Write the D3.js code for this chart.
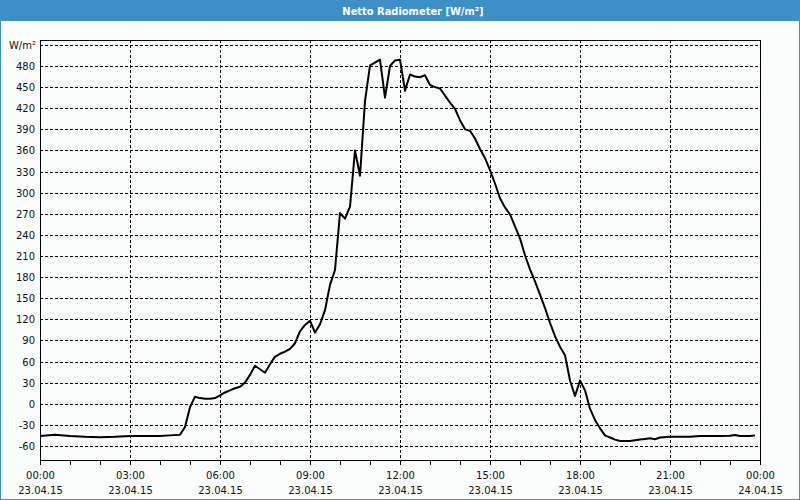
<!DOCTYPE html>
<html><head><meta charset="utf-8">
<script src="https://cdn.jsdelivr.net/npm/d3@7/dist/d3.min.js"></script>
<style>
html,body{margin:0;padding:0;background:#fafdfc;}
svg{display:block;}
</style></head>
<body>
<script>
// ---- data ----
const title = "Netto Radiometer [W/m²]";
const unitLabel = "W/m²";
// minutes after 23.04.15 00:00
const minutes = [0,30,60,90,120,150,180,210,240,260,280,290,300,310,320,330,340,350,360,370,380,390,400,410,420,430,440,450,460,470,480,490,500,510,520,530,540,550,560,570,580,590,600,610,620,630,640,650,660,670,680,690,700,710,720,730,740,750,760,770,780,790,800,810,820,830,840,850,860,870,880,890,900,910,920,930,940,950,960,970,980,990,1000,1010,1020,1030,1040,1050,1060,1070,1080,1090,1100,1110,1120,1130,1140,1150,1160,1180,1200,1210,1220,1230,1240,1260,1280,1300,1320,1340,1360,1380,1390,1400,1420,1430];
const values = [-46,-44,-46,-47,-47.5,-47,-46,-46,-46,-45,-44,-33,-5,10,8,7,7,8,12,16,19,22,24,30,41,54,49,44,56,67,71,74,78,86,103,112,118,101,113,133,169,190,271,263,280,360,324,430,481,485,489,435,480,488,489,445,468,465,464,467,453,450,448,438,428,419,403,390,388,377,362,349,332,313,292,279,269,252,235,211,191,174,155,136,115,96,81,69,33,11,33,19,-7,-23,-35,-45,-48,-51,-53,-53,-51,-50,-49,-50.5,-48,-47,-47,-47,-46,-46,-46,-45.5,-44.5,-46,-46,-45];
const yTicks = [-60,-30,0,30,60,90,120,150,180,210,240,270,300,330,360,390,420,450,480];
const yUnitTick = 510;
const xMajorTicks = [0,180,360,540,720,900,1080,1260,1440];
const xTimeLabels = ["00:00","03:00","06:00","09:00","12:00","15:00","18:00","21:00","00:00"];
const xDateLabels = ["23.04.15","23.04.15","23.04.15","23.04.15","23.04.15","23.04.15","23.04.15","23.04.15","24.04.15"];
const xMinorTicks = d3.range(0, 1441, 60);

// ---- layout ----
const W = 800, H = 500;
const L = 40, R = 760, T = 40, B = 460;
const blue = "#3d8fc7";
const font = "'DejaVu Sans', Verdana, sans-serif";

const svg = d3.select("body").append("svg").attr("width", W).attr("height", H);
svg.append("rect").attr("x",0).attr("y",0).attr("width",W).attr("height",H).attr("fill","#fafdfc");
// title bar
svg.append("rect").attr("x",0).attr("y",0).attr("width",W).attr("height",21).attr("fill",blue);
svg.append("text").attr("x",413).attr("y",14.5).attr("text-anchor","middle")
  .attr("fill","#fff").attr("font-family","'DejaVu Sans Condensed', 'DejaVu Sans', sans-serif")
  .attr("font-weight","bold").attr("font-size","11px").text(title);
// window border
svg.append("rect").attr("x",0.5).attr("y",0.5).attr("width",W-1).attr("height",H-1)
  .attr("fill","none").attr("stroke",blue).attr("stroke-width",1);

const x = d3.scaleLinear().domain([0,1440]).range([L,R]);
const y = d3.scaleLinear().domain([-80,517]).range([B,T]);

// horizontal grid
const grid = svg.append("g").attr("stroke","#000").attr("stroke-width",1).attr("stroke-dasharray","3,2").attr("shape-rendering","crispEdges");
yTicks.concat([yUnitTick]).forEach(v=>{
  const yy = Math.round(y(v))+0.5;
  grid.append("line").attr("x1",L).attr("x2",R).attr("y1",yy).attr("y2",yy);
});
xMajorTicks.slice(1,-1).forEach(m=>{
  const xx = Math.round(x(m))+0.5;
  grid.append("line").attr("x1",xx).attr("x2",xx).attr("y1",T).attr("y2",B);
});

// y labels
const yl = svg.append("g").attr("font-family",font).attr("font-size","10px").attr("fill","#111").attr("text-anchor","end");
yTicks.forEach(v=>{
  yl.append("text").attr("x",35).attr("y",Math.round(y(v))+4).text(v);
});
yl.append("text").attr("x",36).attr("y",Math.round(y(yUnitTick))+4).text(unitLabel);

// x axis minor ticks
const xa = svg.append("g").attr("transform",`translate(0,${B})`)
  .call(d3.axisBottom(x).tickValues(xMinorTicks).tickSize(5).tickSizeOuter(0).tickFormat(""));
xa.select(".domain").remove();
xa.selectAll("line").attr("stroke","#000").attr("shape-rendering","crispEdges");

// x labels
const xl = svg.append("g").attr("font-family",font).attr("font-size","10px").attr("fill","#111").attr("text-anchor","middle");
xMajorTicks.forEach((m,i)=>{
  xl.append("text").attr("x",x(m)+0.5).attr("y",479).text(xTimeLabels[i]);
  xl.append("text").attr("x",x(m)+0.5).attr("y",494).text(xDateLabels[i]);
});

// frame
svg.append("rect").attr("x",L+0.5).attr("y",T+0.5).attr("width",R-L).attr("height",B-T)
  .attr("fill","none").attr("stroke","#000").attr("stroke-width",1).attr("shape-rendering","crispEdges");

// line
const data = minutes.map((m,i)=>({m, v: values[i]}));
svg.append("path").datum(data)
  .attr("fill","none").attr("stroke","#000").attr("stroke-width",2).attr("stroke-linejoin","round")
  .attr("d", d3.line().x(d=>x(d.m)).y(d=>y(d.v)));
</script>
</body></html>
